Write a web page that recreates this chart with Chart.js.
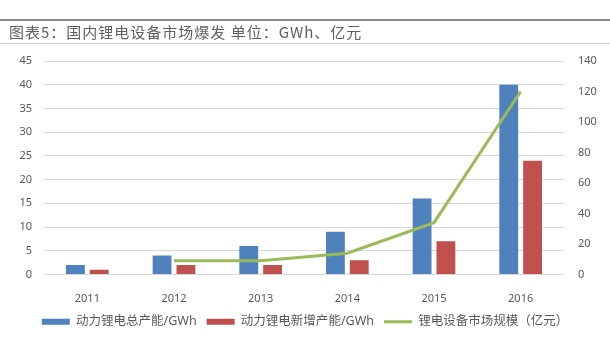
<!DOCTYPE html>
<html>
<head>
<meta charset="utf-8">
<script src="https://cdn.jsdelivr.net/npm/chart.js@4/dist/chart.umd.min.js"></script>
<style>
  html, body { margin: 0; padding: 0; background: #fff; }
  #wrap { position: relative; width: 610px; height: 346px; }
  #title {
    position: absolute; left: 0; top: 19px; width: 610px; height: 22px;
    border-top: 2px solid #8a8a8a; border-bottom: 1px solid #cfcfcf;
    font: 15px 'Noto Sans CJK SC', sans-serif; letter-spacing: 1px;
    color: #606060; line-height: 21px; padding-left: 9px; box-sizing: content-box;
  }
  canvas { position: absolute; left: 0; top: 0; }
</style>
</head>
<body>
<div id="wrap">
  <canvas id="chart" width="610" height="346"></canvas>
  <div id="title">图表5：国内锂电设备市场爆发 单位：GWh、亿元</div>
</div>
<script>
const years = ['2011', '2012', '2013', '2014', '2015', '2016'];
const totalCapacity = [2, 4, 6, 9, 16, 40];      // 动力锂电总产能/GWh
const newCapacity = [1, 2, 2, 3, 7, 24];         // 动力锂电新增产能/GWh
const marketSize = [null, 9, 9, 14, 34, 120];    // 锂电设备市场规模（亿元）

Chart.defaults.font.family = "'Noto Sans', 'Noto Sans CJK SC', sans-serif";
Chart.defaults.color = '#595959';

const ctx = document.getElementById('chart').getContext('2d');
new Chart(ctx, {
  type: 'bar',
  data: {
    labels: years,
    datasets: [
      {
        label: '动力锂电总产能/GWh',
        data: totalCapacity,
        backgroundColor: '#4f81bd',
        yAxisID: 'y',
        categoryPercentage: 0.55,
        barPercentage: 0.79,
        order: 2
      },
      {
        label: '动力锂电新增产能/GWh',
        data: newCapacity,
        backgroundColor: '#c0504d',
        yAxisID: 'y',
        categoryPercentage: 0.55,
        barPercentage: 0.79,
        order: 2
      },
      {
        type: 'line',
        label: '锂电设备市场规模（亿元）',
        data: marketSize,
        borderColor: '#9bbb59',
        backgroundColor: '#9bbb59',
        borderWidth: 3,
        pointRadius: 0,
        tension: 0,
        yAxisID: 'y1',
        order: 1   // drawn over the bars
      }
    ]
  },
  options: {
    responsive: false,
    animation: false,
    layout: { padding: { top: 61, bottom: 8, left: 0, right: 0 } },
    plugins: {
      tooltip: { enabled: false },
      legend: {
        position: 'bottom',
        labels: {
          font: { size: 12.5 },
          color: '#595959',
          usePointStyle: true,
          pointStyleWidth: 28,
          boxHeight: 6,
          padding: 10,
          sort: (a, b) => a.datasetIndex - b.datasetIndex,
          generateLabels(chart) {
            const items = Chart.defaults.plugins.legend.labels.generateLabels(chart);
            items.forEach(it => {
              const isLine = chart.data.datasets[it.datasetIndex].type === 'line';
              it.pointStyle = isLine ? 'line' : 'rect';
              it.lineWidth = isLine ? 3 : 0;
            });
            return items;
          }
        }
      }
    },
    scales: {
      x: {
        grid: { display: false },
        border: { display: false },
        ticks: { font: { size: 11 }, padding: 10 },
        afterFit(scale) { scale.height = 31; }
      },
      y: {
        position: 'left',
        min: 0, max: 45,
        ticks: { stepSize: 5, font: { size: 11 }, padding: 12 },
        grid: { color: '#d9d9d9', drawTicks: false },
        border: { display: false },
        afterFit(scale) { scale.width = 44; }
      },
      y1: {
        position: 'right',
        min: 0, max: 140,
        ticks: { stepSize: 20, font: { size: 11 }, padding: 14 },
        grid: { display: false, drawTicks: false },
        border: { display: false },
        afterFit(scale) { scale.width = 46; }
      }
    }
  }
});
</script>
</body>
</html>
